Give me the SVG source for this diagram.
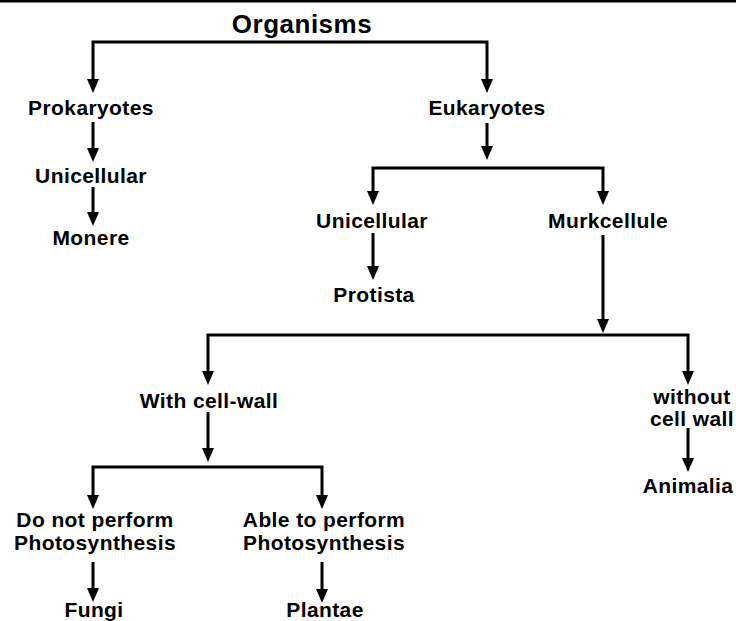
<svg xmlns="http://www.w3.org/2000/svg" width="736" height="621" viewBox="0 0 736 621">
<defs>
<style>
text{font-family:"Liberation Sans",Arial,sans-serif;font-weight:bold;font-size:21px;fill:#000;text-anchor:middle;letter-spacing:0.4px}
.title{font-size:26px;letter-spacing:0.5px}
.c{fill:none;stroke:#000;stroke-width:3;stroke-linejoin:miter}
.a{marker-end:url(#ah)}
.b{marker-start:url(#ahs);marker-end:url(#ah)}
</style>
<marker id="ah" viewBox="0 0 14 12" refX="8" refY="6" markerWidth="14" markerHeight="12" markerUnits="userSpaceOnUse" orient="auto"><path d="M0,0 L14,6 L0,12 Z" fill="#000"/></marker>
<marker id="ahs" viewBox="0 0 14 12" refX="8" refY="6" markerWidth="14" markerHeight="12" markerUnits="userSpaceOnUse" orient="auto-start-reverse"><path d="M0,0 L14,6 L0,12 Z" fill="#000"/></marker>
</defs>
<rect width="736" height="621" fill="#fff"/>
<line x1="0" y1="1.3" x2="736" y2="1.3" stroke="#000" stroke-width="2.6"/>
<g id="connectors">
<path class="c b" d="M93,87 V42 H487 V87"/>
<path class="c a" d="M93,122 V156"/>
<path class="c a" d="M93,187 V220"/>
<path class="c a" d="M487,123 V154"/>
<path class="c b" d="M373,199 V168 H603 V199"/>
<path class="c a" d="M373,233 V274"/>
<path class="c a" d="M603,235 V327"/>
<path class="c b" d="M208,379 V335 H688 V379"/>
<path class="c a" d="M208,412 V456"/>
<path class="c b" d="M93,503 V467 H322 V503"/>
<path class="c a" d="M688,428 V466"/>
<path class="c a" d="M93,562 V596"/>
<path class="c a" d="M322,562 V597"/>
</g>
<g id="organisms"><text class="title" x="302" y="33">Organisms</text></g>
<g id="prokaryotes"><text x="91" y="115">Prokaryotes</text></g>
<g id="eukaryotes"><text x="487" y="115">Eukaryotes</text></g>
<g id="unicellular-pro"><text x="91" y="183">Unicellular</text></g>
<g id="monere"><text x="91" y="245">Monere</text></g>
<g id="unicellular-eu"><text x="372" y="228">Unicellular</text></g>
<g id="murkcellule"><text x="608" y="228">Murkcellule</text></g>
<g id="protista"><text x="374" y="302">Protista</text></g>
<g id="with-cell-wall"><text x="209" y="408">With cell-wall</text></g>
<g id="without-cell-wall"><text x="692" y="404">without</text><text x="692" y="426">cell wall</text></g>
<g id="animalia"><text x="688" y="493">Animalia</text></g>
<g id="no-photosynthesis"><text x="95" y="527">Do not perform</text><text x="95" y="550">Photosynthesis</text></g>
<g id="photosynthesis"><text x="324" y="527">Able to perform</text><text x="324" y="550">Photosynthesis</text></g>
<g id="fungi"><text x="94" y="617">Fungi</text></g>
<g id="plantae"><text x="325" y="617">Plantae</text></g>
</svg>
